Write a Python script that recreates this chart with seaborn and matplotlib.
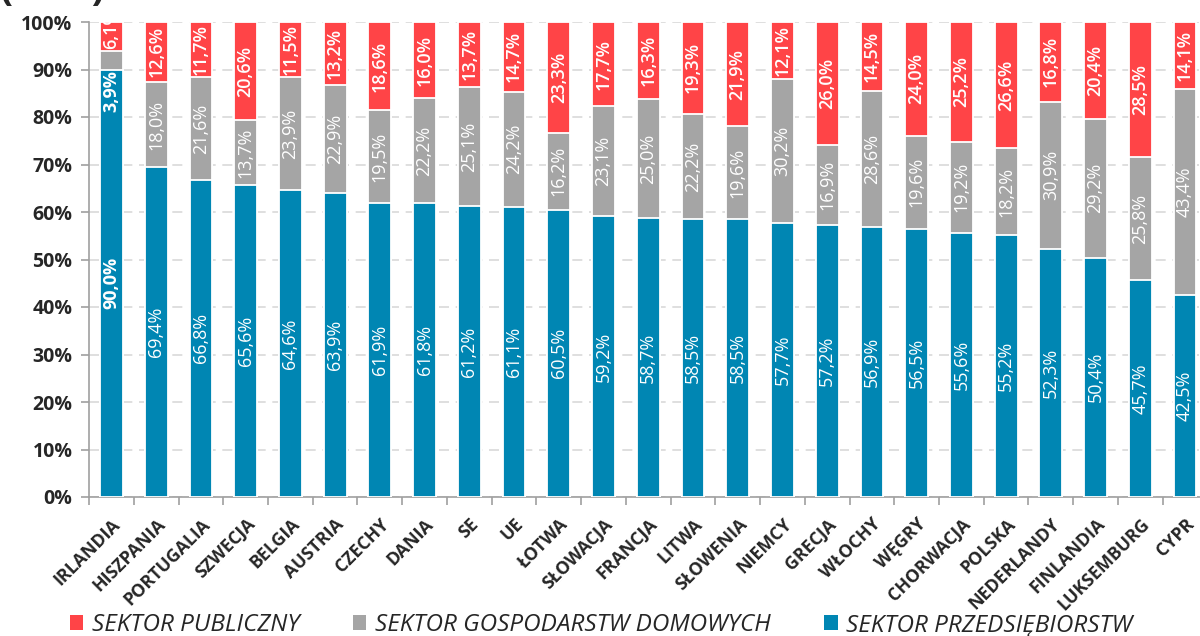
import matplotlib
matplotlib.use("Agg")
import matplotlib.pyplot as plt
import seaborn as sns
import pandas as pd
import numpy as np
from matplotlib.patches import Patch
from matplotlib.ticker import MultipleLocator, FuncFormatter

countries = ["IRLANDIA", "HISZPANIA", "PORTUGALIA", "SZWECJA", "BELGIA", "AUSTRIA",
             "CZECHY", "DANIA", "SE", "UE", "ŁOTWA", "SŁOWACJA", "FRANCJA", "LITWA",
             "SŁOWENIA", "NIEMCY", "GRECJA", "WŁOCHY", "WĘGRY", "CHORWACJA", "POLSKA",
             "NEDERLANDY", "FINLANDIA", "LUKSEMBURG", "CYPR"]
przedsiebiorstw = [90.0, 69.4, 66.8, 65.6, 64.6, 63.9, 61.9, 61.8, 61.2, 61.1, 60.5, 59.2,
                   58.7, 58.5, 58.5, 57.7, 57.2, 56.9, 56.5, 55.6, 55.2, 52.3, 50.4, 45.7, 42.5]
gospodarstw = [3.9, 18.0, 21.6, 13.7, 23.9, 22.9, 19.5, 22.2, 25.1, 24.2, 16.2, 23.1,
               25.0, 22.2, 19.6, 30.2, 16.9, 28.6, 19.6, 19.2, 18.2, 30.9, 29.2, 25.8, 43.4]
publiczny = [6.1, 12.6, 11.7, 20.6, 11.5, 13.2, 18.6, 16.0, 13.7, 14.7, 23.3, 17.7,
             16.3, 19.3, 21.9, 12.1, 26.0, 14.5, 24.0, 25.2, 26.6, 16.8, 20.4, 28.5, 14.1]
series_names = ["SEKTOR PUBLICZNY", "SEKTOR GOSPODARSTW DOMOWYCH", "SEKTOR PRZEDSIĘBIORSTW"]
title_text = "(w %)"

C_RED = "#FF4447"
C_GREY = "#A5A5A5"
C_BLUE = "#0086B3"

sns.set_theme(style="white")
plt.rcParams["font.family"] = ["Open Sans", "DejaVu Sans"]

df = pd.DataFrame({"kraj": countries, "p": przedsiebiorstw, "g": gospodarstw, "u": publiczny})
df["pg"] = df["p"] + df["g"]
df["tot"] = df["pg"] + df["u"]

fig = plt.figure(figsize=(12, 6.36), dpi=100)
ax = fig.add_axes([89.1 / 1200, (636 - 497) / 636, (1207.4 - 89.1) / 1200, (497 - 22) / 636])

bw = 0.51
for col, color in [("tot", C_RED), ("pg", C_GREY), ("p", C_BLUE)]:
    sns.barplot(data=df, x="kraj", y=col, color=color, width=bw, ax=ax,
                edgecolor="white", linewidth=1.3, saturation=1, zorder=3)

ax.set_ylim(0, 100)
ax.set_xlim(-0.5, len(countries) - 0.5)


def fmt(v):
    return f"{v:.1f}".replace(".", ",") + "%"


# value labels
LFS = 13
for i in range(len(countries)):
    p, g, u = przedsiebiorstw[i], gospodarstw[i], publiczny[i]
    w = "bold" if i == 0 else "normal"
    g_pos = p + g / 2
    if g < 6:
        g_pos = p - 4.5
    ax.text(i, p / 2, fmt(p), rotation=90, ha="center", va="center", color="white",
            fontsize=LFS, fontweight=w, zorder=5, clip_on=True)
    ax.text(i, g_pos, fmt(g), rotation=90, ha="center", va="center", color="white",
            fontsize=LFS, fontweight=w, zorder=5, clip_on=True)
    if u < 8:
        ax.text(i, p + g + 0.4, fmt(u), rotation=90, ha="center", va="bottom", color="white",
                fontsize=LFS, fontweight="semibold", zorder=5, clip_on=True)
    else:
        ax.text(i, p + g + u / 2, fmt(u), rotation=90, ha="center", va="center", color="white",
                fontsize=LFS, fontweight="semibold", zorder=5, clip_on=True)

# grid
ax.yaxis.set_major_locator(MultipleLocator(10))
ax.yaxis.set_major_formatter(FuncFormatter(lambda v, _: f"{int(v)}%"))
ax.grid(axis="y", color="#D9D9D9", linestyle=(0, (6, 4)), linewidth=1.2, zorder=0)
ax.set_axisbelow(True)

for s in ["top", "right"]:
    ax.spines[s].set_visible(False)
for s in ["left", "bottom"]:
    ax.spines[s].set_color("#A0A0A0")
    ax.spines[s].set_linewidth(1.2)

ax.set_xlabel("")
ax.set_ylabel("")
ax.tick_params(axis="y", which="major", left=True, length=6, color="#A0A0A0", width=1.2,
               labelsize=14, pad=6)
for lab in ax.get_yticklabels():
    lab.set_fontweight("bold")

ax.set_xticks(np.arange(len(countries)))
ax.set_xticklabels(countries, rotation=45, ha="right", rotation_mode="anchor",
                   fontsize=12.8, fontweight="bold")
ax.tick_params(axis="x", which="major", bottom=False, length=0, pad=13)
ax.set_xticks(np.arange(len(countries) + 1) - 0.5, minor=True)
ax.tick_params(axis="x", which="minor", bottom=True, length=6, color="#A0A0A0", width=1.2)

handles = [Patch(facecolor=C_RED, edgecolor="none"),
           Patch(facecolor=C_GREY, edgecolor="none"),
           Patch(facecolor=C_BLUE, edgecolor="none")]
fig.legend(handles, series_names, loc="center", bbox_to_anchor=(0.501, (636 - 625) / 636),
           ncol=3, frameon=False, handlelength=0.55, handleheight=0.55, handletextpad=0.35,
           columnspacing=2.2, prop={"size": 17.5, "style": "italic"})

fig.text(0.0, 1.0 + 1 / 636, title_text, ha="left", va="baseline", fontsize=28, fontweight="bold")

fig.savefig("out.png", dpi=100)
